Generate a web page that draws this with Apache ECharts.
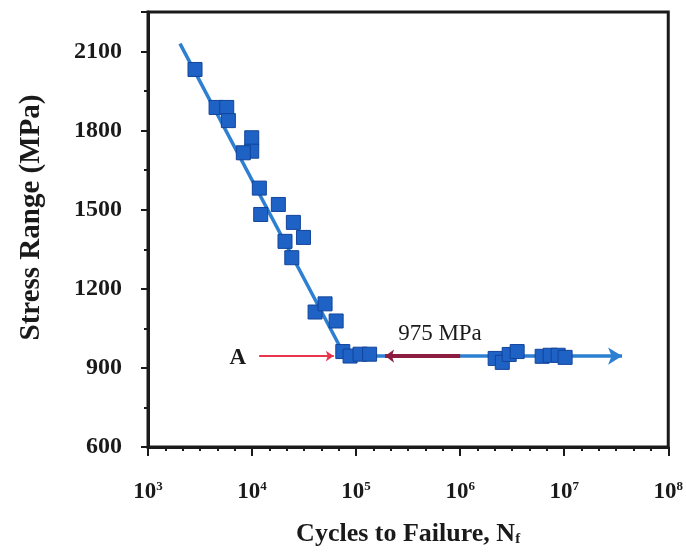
<!DOCTYPE html>
<html>
<head>
<meta charset="utf-8">
<script src="https://cdn.jsdelivr.net/npm/echarts@6/dist/echarts.min.js"></script>
<style>
  html, body { margin: 0; padding: 0; background: #fff; }
  #chart { width: 686px; height: 552px; }
</style>
</head>
<body>
<div id="chart"></div>
<script>
// fatigue S-N data
var cycles = [2830, 4510, 5710, 5920, 9930, 9930, 8240, 11750, 12110, 17900,
  24950, 31200, 20740, 24100, 40350, 50300, 64300, 74500, 87500, 109100,
  134800, 2170000, 2540000, 2960000, 3530000, 6140000, 7330000, 8750000, 10200000];
var stress = [2032, 1888, 1888, 1838, 1773, 1722, 1716, 1582, 1482, 1520,
  1452, 1395, 1380, 1318, 1112, 1143, 1078, 962, 945, 952,
  952, 936, 921, 951, 962, 944, 948, 948, 940];

// fitted line: sloped part, then the endurance plateau
var fitCycles = [2030, 78000];
var fitStress = [2130, 945];
var plateauCycles = [78000, 36000000];
var plateauStress = 945;
var limitCycles = [190000, 1000000];   // dark red segment
var arrowACycles = [11700, 61000];     // red arrow from A

var yTicks = [600, 900, 1200, 1500, 1800, 2100];

var notes = [
  { name: 'A', value: [7300, 936], bold: true },
  { name: '975 MPa', value: [640000, 1028], bold: false }
];

var BLUE = '#1f62c6';
var LINE_BLUE = '#2d7fd2';
var RED = '#e8344c';
var MAROON = '#8c1c40';
var FONT = '"Liberation Serif", "Times New Roman", serif';

var points = cycles.map(function (c, i) { return [c, stress[i]]; });
var fitLine = fitCycles.map(function (c, i) { return [c, fitStress[i]]; });

var chart = echarts.init(document.getElementById('chart'), null, { renderer: 'canvas' });

chart.setOption({
  animation: false,
  grid: {
    left: 148, right: 17, top: 12, bottom: 100,
    show: true, borderColor: '#1a1a1a', borderWidth: 3
  },
  xAxis: [{
    // data axis (log scale), ticks come from the second axis
    type: 'log', logBase: 10, min: 1000, max: 100000000,
    show: false
  }, {
    type: 'value', min: 3, max: 8, interval: 1,
    position: 'bottom',
    name: 'Cycles to Failure, N{sub|f}',
    nameLocation: 'middle',
    nameGap: 74,
    nameTextStyle: {
      fontFamily: FONT, fontWeight: 'bold', fontSize: 26, color: '#1a1a1a',
      rich: { sub: { fontFamily: FONT, fontWeight: 'bold', fontSize: 15, padding: [10, 0, 0, 0], color: '#1a1a1a' } }
    },
    axisLine: { lineStyle: { color: '#1a1a1a', width: 3 } },
    axisTick: { inside: false, length: 9, lineStyle: { color: '#1a1a1a', width: 2 } },
    minorTick: { show: true, splitNumber: 6, length: 4, lineStyle: { color: '#1a1a1a', width: 2 } },
    splitLine: { show: false },
    axisLabel: {
      margin: 33,
      formatter: function (v) { return '{b|10}{s|' + v + '}'; },
      rich: {
        b: { fontFamily: FONT, fontWeight: 'bold', fontSize: 23, color: '#1a1a1a' },
        s: { fontFamily: FONT, fontWeight: 'bold', fontSize: 13, color: '#1a1a1a', padding: [0, 0, 12, 0] }
      }
    }
  }],
  yAxis: {
    type: 'value', min: 600, max: 2250, interval: 300,
    name: 'Stress Range (MPa)',
    nameLocation: 'middle',
    nameGap: 102,
    nameTextStyle: {
      fontFamily: FONT, fontWeight: 'bold', fontSize: 29, color: '#1a1a1a',
      padding: [0, 0, 0, 24]
    },
    axisLine: { show: true, lineStyle: { color: '#1a1a1a', width: 3 } },
    axisTick: { inside: false, length: 7, lineStyle: { color: '#1a1a1a', width: 2 } },
    minorTick: { show: true, splitNumber: 2, length: 4, lineStyle: { color: '#1a1a1a', width: 2 } },
    splitLine: { show: false },
    axisLabel: {
      margin: 26,
      fontFamily: FONT, fontWeight: 'bold', fontSize: 24, color: '#1a1a1a',
      formatter: function (v) { return yTicks.indexOf(v) >= 0 ? String(v) : ''; }
    }
  },
  series: [{
    type: 'line',
    xAxisIndex: 0,
    data: fitLine,
    symbol: 'none',
    lineStyle: { color: LINE_BLUE, width: 3.5 },
    z: 2,
    markLine: {
      silent: true,
      label: { show: false },
      data: [
        [{ coord: [plateauCycles[0], plateauStress], symbol: 'none', lineStyle: { color: LINE_BLUE, width: 3.5, type: 'solid' } },
         { coord: [plateauCycles[1], plateauStress], symbol: 'arrow', symbolSize: [13, 14] }],
        [{ coord: [limitCycles[0], plateauStress], symbol: 'arrow', symbolSize: [10, 9], lineStyle: { color: MAROON, width: 4, type: 'solid' } },
         { coord: [limitCycles[1], plateauStress], symbol: 'none' }],
        [{ coord: [arrowACycles[0], plateauStress], symbol: 'none', lineStyle: { color: RED, width: 2.2, type: 'solid' } },
         { coord: [arrowACycles[1], plateauStress], symbol: 'arrow', symbolSize: [8, 8] }]
      ]
    }
  }, {
    type: 'scatter',
    xAxisIndex: 0,
    data: points,
    symbol: 'rect',
    symbolSize: 14,
    itemStyle: { color: BLUE, borderColor: '#12449a', borderWidth: 1, opacity: 1 },
    z: 5
  }, {
    type: 'scatter',
    xAxisIndex: 0,
    data: notes.map(function (n) {
      return {
        name: n.name, value: n.value,
        label: { fontWeight: n.bold ? 'bold' : 'normal' }
      };
    }),
    symbolSize: 0,
    silent: true,
    itemStyle: { opacity: 1 },
    label: {
      show: true, position: 'inside',
      formatter: function (p) { return p.name; },
      fontFamily: FONT, fontSize: 23, color: '#1a1a1a'
    },
    z: 6
  }]
});
</script>
</body>
</html>
